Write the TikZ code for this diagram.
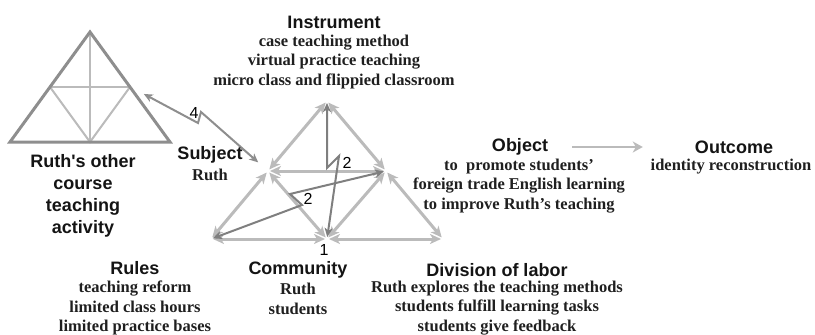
\documentclass[tikz,border=0pt]{standalone}
\usepackage{fontspec}
\setmainfont{Liberation Serif}
\newfontfamily\headfont{Liberation Sans}
\usetikzlibrary{arrows.meta}

\definecolor{linkgray}{HTML}{BBBBBB}
\definecolor{clashgray}{HTML}{7F7F7F}
\definecolor{framegray}{HTML}{8E8E8E}

\begin{document}
\begin{tikzpicture}[x=1pt,y=-1pt,
    head/.style={font={\headfont\fontsize{18}{22}\selectfont\bfseries},
        inner sep=0pt, align=center, text=black!92},
    body/.style={font={\fontsize{16.5}{19.5}\selectfont\bfseries},
        inner sep=0pt, align=center, text=black!88},
    num/.style={font={\headfont\fontsize{16}{16}\selectfont}, inner sep=0pt},
    link/.style={draw=linkgray, line width=3pt,
        {Stealth[length=11pt,width=10pt,inset=3pt]}-{Stealth[length=11pt,width=10pt,inset=3pt]},
        shorten <=2pt, shorten >=2pt},
    clash/.style={draw=clashgray, line width=2pt, line join=miter,
        {Stealth[length=9pt,width=8pt,inset=2.5pt]}-{Stealth[length=9pt,width=8pt,inset=2.5pt]},
        shorten <=2pt, shorten >=2pt},
    outer/.style={draw=framegray, line width=3pt, line join=miter},
    inner/.style={draw=linkgray, line width=2pt}]
\useasboundingbox (0,0) rectangle (815,335);

% the other activity system
\coordinate (otop) at (90,32);
\coordinate (oleft) at (10,142);
\coordinate (oright) at (170,142);
\coordinate (obase) at (90,142);
\coordinate (omidl) at (50,87);
\coordinate (omidr) at (130,87);
\draw[inner] (omidl) -- (omidr);
\draw[inner] (otop) -- (obase);
\draw[inner] (omidl) -- (obase) -- (omidr);
\draw[outer] (otop) -- (oleft) -- (oright) -- cycle;
\node[head] (otherhead) at (83,196) {Ruth's other\\course\\teaching\\activity};

% the main triangle
\coordinate (tool) at (327,101);
\coordinate (subj) at (268,171);
\coordinate (obj) at (386,171);
\coordinate (rules) at (211,239);
\coordinate (comm) at (327,239);
\coordinate (div) at (443,239);

\draw[link] (tool) -- (subj);
\draw[link] (tool) -- (obj);
\draw[link] (subj) -- (rules);
\draw[link] (obj) -- (div);
\draw[link] (rules) -- (comm);
\draw[link] (comm) -- (div);
\draw[link] (subj) -- (obj);
\draw[link] (subj) -- (comm);
\draw[link] (obj) -- (comm);

% contradictions
\coordinate (other) at (142,93);
\coordinate (k4a) at (198,123);
\coordinate (k4b) at (201,112);
\draw[clash, draw=framegray, shorten >=13pt] (other) -- (k4a) -- (k4b) -- (subj);
\node[num] (n4) at (194,113) {4};

\coordinate (k1a) at (327,168);
\coordinate (k1b) at (339,156);
\draw[clash] (tool) -- (k1a) -- (k1b) -- (comm);
\node[num] (n2a) at (347,163) {2};

\coordinate (k2a) at (290,194);
\coordinate (k2b) at (302,205);
\draw[clash] (obj) -- (k2a) -- (k2b) -- (rules);
\node[num] (n2b) at (308,199) {2};

\node[num] (n1) at (324,250) {1};

% labels
\node[head] (toolhead) at (334,22) {Instrument};
\node[body] (toolbody) at (334,62) {case teaching method\\virtual practice teaching\\micro class and flippied classroom};

\node[head] (subjhead) at (210,155) {Subject};
\node[body] (subjbody) at (210,175) {Ruth};

\node[head] (objhead) at (520,147) {Object};
\node[body] (objbody) at (519,186) {to\ \ promote students'\\foreign trade English learning\\to improve Ruth's teaching};

\node[head] (outhead) at (734,147) {Outcome};
\node[body] (outbody) at (731,167) {identity reconstruction};

\node[head] (ruleshead) at (135,268) {Rules};
\node[body] (rulesbody) at (135,308) {teaching reform\\limited class hours\\limited practice bases};

\node[head] (commhead) at (298,270) {Community};
\node[body] (commbody) at (298,299) {Ruth\\students};

\node[head] (divhead) at (497,270) {Division of labor};
\node[body] (divbody) at (497,308) {Ruth explores the teaching methods\\students fulfill learning tasks\\students give feedback};

\draw[draw=linkgray, line width=2.5pt, -{Stealth[length=10pt,width=11pt,inset=3pt]},
    shorten <=24pt, shorten >=52pt] (objhead.east) -- (outhead.west);
\end{tikzpicture}
\end{document}
